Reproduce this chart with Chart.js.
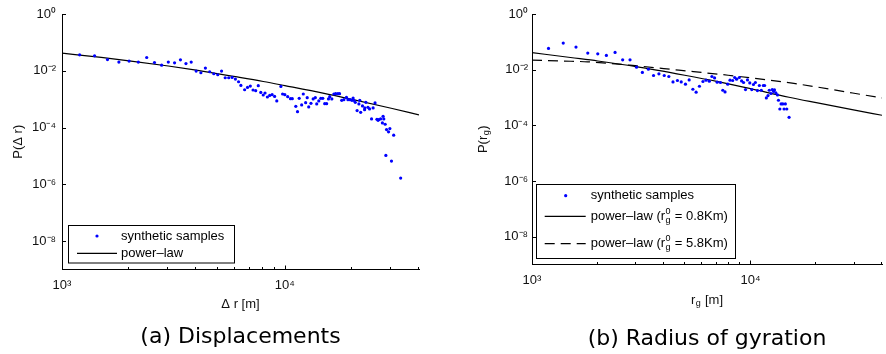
<!DOCTYPE html>
<html>
<head>
<meta charset="utf-8">
<script src="https://cdn.jsdelivr.net/npm/chart.js@4.4.1/dist/chart.umd.min.js"></script>
<style>
  html, body { margin: 0; padding: 0; background: #fff; }
  #wrap { position: relative; width: 886px; height: 354px; }
  canvas { position: absolute; top: 0; }
</style>
</head>
<body>
<div id="wrap">
  <canvas id="chartA" width="443" height="354" style="left:0"></canvas>
  <canvas id="chartB" width="443" height="354" style="left:443px"></canvas>
</div>
<script>
// ---- (a) displacements: samples ----
const dispX = [1200, 1400, 1600, 1800, 2000, 2200, 2400, 2600, 2800, 3000,
  3200, 3400, 3600, 3800, 4000, 4200, 4400, 4600, 4800, 5000,
  5200, 5400, 5600, 5800, 6000, 6200, 6350, 6600, 6800, 7000,
  7200, 7400, 7600, 7800, 8000, 8150, 8350, 8550, 8770, 9000,
  9200, 9600, 9770, 10000, 10300, 10600, 10800, 11200, 11400, 11600,
  11900, 12100, 12400, 12600, 12800, 13100, 13400, 13700, 13900, 14200,
  14500, 14800, 15100, 15400, 15700, 15900, 16250, 16600, 16900, 17300,
  17600, 18000, 18400, 18900, 19200, 19600, 20000, 20400, 20700, 21100,
  21500, 21900, 22300, 22800, 23100, 23600, 24000, 24500, 24900, 25400,
  25900, 26400, 26900, 27400, 27800, 28200, 28600, 29200, 29600, 28400,
  30100, 30800, 33100, 22840, 26200, 27600, 21690, 20250];
const dispY = [0.0364, 0.0336, 0.0249, 0.0202, 0.0219, 0.0202, 0.0293, 0.0196, 0.0158, 0.0202,
  0.0191, 0.0243, 0.0180, 0.0202, 0.00976, 0.00851, 0.01244, 0.00923, 0.00785, 0.00724,
  0.00976, 0.00568, 0.00568, 0.00582, 0.00511, 0.00411, 0.00305, 0.00215, 0.00259, 0.00290,
  0.00210, 0.00199, 0.00298, 0.00173, 0.00140, 0.00165, 0.00119, 0.00136, 0.00144, 0.00125,
  0.000865, 0.00281, 0.00152, 0.00144, 0.00122, 0.00104, 0.00104, 0.000559, 0.000364, 0.00107,
  0.000626, 0.00152, 0.000754, 0.00113, 0.000532, 0.000712, 0.00102, 0.00113, 0.000679, 0.000865,
  0.00107, 0.00107, 0.000695, 0.000695, 0.00102, 0.00122, 0.00102, 0.00152, 0.00156, 0.00156,
  0.00156, 0.000908, 0.000961, 0.00116, 0.000961, 0.000961, 0.000908, 0.000908, 0.000772, 0.000395,
  0.000679, 0.000344, 0.000577, 0.000428, 0.000772, 0.000516, 0.000453, 0.000202, 0.000491, 0.000736,
  0.000196, 0.000191, 0.000202, 0.000146, 0.000202, 0.000131, 0.0000851, 0.0000706, 0.0000922, 0.0000104,
  0.00000657, 0.0000537, 0.00000166, 0.000491, 0.000180, 0.000249, 0.000908, 0.00110];
// power-law fit curve
const dispFitX = [1000, 1500, 2000, 3000, 4000, 6000, 8000, 10000, 15000, 20000, 30000, 40000];
const dispFitY = [0.0418, 0.0296, 0.0225, 0.0147, 0.0105, 0.0062, 0.0042, 0.0030, 0.0016, 0.00098, 0.00048, 0.00028];

// ---- (b) radius of gyration ----
const gyrX = [1190, 1390, 1590, 1800, 2000, 2190, 2400, 2600, 2810, 3010,
  3200, 3410, 3600, 3810, 4030, 4230, 4420, 4630, 4820, 5040,
  5240, 5450, 5640, 5840, 6060, 6260, 6480, 6660, 6850, 7040,
  7290, 7470, 7650, 7870, 8060, 8290, 8470, 8640, 8890, 9110,
  9300, 9490, 9690, 9930, 10140, 10320, 10530, 10760, 10980, 11210,
  11450, 11610, 11820, 12030, 12190, 12410, 12580, 12750, 12880, 13070,
  13290, 13430, 13630, 13810, 14060, 14250, 14440, 14660, 15020];
const gyrY = [0.0581, 0.0902, 0.0647, 0.0393, 0.0371, 0.0325, 0.0417, 0.0226, 0.0226, 0.0123,
  0.00793, 0.0104, 0.00618, 0.00706, 0.00618, 0.00569, 0.00363, 0.00408, 0.00363, 0.00300,
  0.00429, 0.00198, 0.00155, 0.00254, 0.00376, 0.00419, 0.00385, 0.00569, 0.00507, 0.00355,
  0.00346, 0.00182, 0.00158, 0.00300, 0.00419, 0.00408, 0.00524, 0.00455, 0.00524, 0.00395,
  0.00346, 0.00193, 0.00429, 0.00334, 0.00193, 0.00293, 0.00346, 0.00178, 0.00270, 0.00182,
  0.00270, 0.00270, 0.000964, 0.00117, 0.00182, 0.00139, 0.00193, 0.00164, 0.00187, 0.00146,
  0.00124, 0.000796, 0.000387, 0.000586, 0.000586, 0.000387, 0.000586, 0.000387, 0.000194];
// r_g^0 = 0.8Km
const gyrFitAX = [1000, 1500, 2000, 3000, 5000, 7000, 10000, 15000, 20000, 30000, 40000];
const gyrFitAY = [0.041, 0.0273, 0.0205, 0.0128, 0.0063, 0.0038, 0.00207, 0.00102, 0.00065, 0.00035, 0.00023];
// r_g^0 = 5.8Km
const gyrFitBX = [1000, 1400, 1800, 2800, 4700, 7900, 15800, 40000];
const gyrFitBY = [0.022, 0.0204, 0.0191, 0.0145, 0.0096, 0.0063, 0.0032, 0.00096];

// axes
const xMajorTicks = [1e3, 1e4];
const xTickLabels = ['10³', '10⁴'];
const xMinorTicks = [2e3, 3e3, 4e3, 5e3, 6e3, 7e3, 8e3, 9e3, 2e4, 3e4, 4e4];
const yTicks = [1e-8, 1e-6, 1e-4, 1e-2, 1];
const yTickLabels = ['10⁻⁸', '10⁻⁶', '10⁻⁴', '10⁻²', '10⁰'];

const FONT = "'Liberation Sans', Arial, sans-serif";
const BASE = "13px " + FONT;
const SMALL = "9px " + FONT;

const pts = (xs, ys) => xs.map((x, i) => ({ x: x, y: ys[i] }));

// text with small raised / lowered pieces
function richWidth(ctx, parts) {
  let w = 0;
  parts.forEach(p => {
    if (typeof p === 'string') { ctx.font = BASE; w += ctx.measureText(p).width; }
    else {
      ctx.font = SMALL;
      w += Math.max(ctx.measureText(p.sup || '').width, ctx.measureText(p.sub || '').width) + 1;
    }
  });
  return w;
}
function drawRich(ctx, parts, x, y) {
  ctx.textBaseline = 'middle';
  ctx.textAlign = 'left';
  parts.forEach(p => {
    if (typeof p === 'string') {
      ctx.font = BASE; ctx.fillText(p, x, y); x += ctx.measureText(p).width;
    } else {
      ctx.font = SMALL;
      if (p.sup) ctx.fillText(p.sup, x + 0.5, y - 5);
      if (p.sub) ctx.fillText(p.sub, x + 0.5, y + 4);
      x += Math.max(ctx.measureText(p.sup || '').width, ctx.measureText(p.sub || '').width) + 1;
    }
  });
}

// ticks point inward, like the original
const inwardTicks = {
  id: 'inwardTicks',
  afterDatasetsDraw(chart) {
    const { ctx, chartArea: a, scales: { x, y } } = chart;
    ctx.save();
    ctx.strokeStyle = '#000';
    ctx.lineWidth = 1;
    ctx.beginPath();
    yTicks.forEach(v => {
      const p = Math.round(y.getPixelForValue(v)) + 0.5;
      ctx.moveTo(a.left, p); ctx.lineTo(a.left + 4, p);
    });
    xMajorTicks.forEach(v => {
      const p = Math.round(x.getPixelForValue(v)) + 0.5;
      ctx.moveTo(p, a.bottom); ctx.lineTo(p, a.bottom - 4);
    });
    xMinorTicks.forEach(v => {
      const p = Math.round(x.getPixelForValue(v)) - 0.5;
      ctx.moveTo(p, a.bottom); ctx.lineTo(p, a.bottom - 2.5);
    });
    ctx.stroke();
    ctx.restore();
  }
};

const richText = {
  id: 'richText',
  afterDraw(chart, args, opts) {
    const ctx = chart.ctx;
    (opts.items || []).forEach(it => {
      ctx.save();
      ctx.fillStyle = '#111';
      const cx = it.cx === 'area' ? (chart.chartArea.left + chart.chartArea.right) / 2 : it.cx;
      const cy = it.cy === 'area' ? (chart.chartArea.top + chart.chartArea.bottom) / 2 : it.cy;
      ctx.translate(cx, cy);
      if (it.rotate) ctx.rotate(-Math.PI / 2);
      drawRich(ctx, it.parts, -richWidth(ctx, it.parts) / 2, 0);
      ctx.restore();
    });
  }
};

const boxLegend = {
  id: 'boxLegend',
  afterDraw(chart, args, o) {
    const ctx = chart.ctx;
    ctx.save();
    ctx.fillStyle = '#fff';
    ctx.fillRect(o.box[0], o.box[1], o.box[2], o.box[3]);
    ctx.strokeStyle = '#000';
    ctx.lineWidth = 1;
    ctx.strokeRect(o.box[0], o.box[1], o.box[2], o.box[3]);
    chart.data.datasets.forEach((ds, i) => {
      const yy = o.rows[i];
      if (ds.showLine) {
        ctx.strokeStyle = ds.borderColor;
        ctx.lineWidth = ds.borderWidth;
        ctx.setLineDash(ds.borderDash || []);
        ctx.beginPath();
        ctx.moveTo(o.lineX[0], yy); ctx.lineTo(o.lineX[1], yy);
        ctx.stroke();
        ctx.setLineDash([]);
      } else {
        ctx.fillStyle = ds.backgroundColor;
        ctx.beginPath();
        ctx.arc(o.markerX, yy, ds.pointRadius, 0, Math.PI * 2);
        ctx.fill();
      }
      ctx.fillStyle = '#000';
      drawRich(ctx, ds.legendParts || [ds.label], o.textX, yy);
    });
    ctx.restore();
  }
};

function samples(xs, ys) {
  return { label: 'synthetic samples', data: pts(xs, ys), showLine: false,
    pointRadius: 1.6, pointBorderWidth: 0, backgroundColor: '#0000ff', borderColor: '#0000ff' };
}
function fitLine(label, xs, ys, dash, parts) {
  return { label: label, legendParts: parts, data: pts(xs, ys), showLine: true, pointRadius: 0,
    borderColor: '#000', borderWidth: 1.2, borderDash: dash, cubicInterpolationMode: 'monotone' };
}

function makeChart(id, o) {
  return new Chart(document.getElementById(id), {
    type: 'scatter',
    data: { datasets: o.datasets },
    options: {
      responsive: false,
      animation: false,
      devicePixelRatio: 1,
      layout: { padding: o.padding },
      plugins: {
        legend: { display: false },
        tooltip: { enabled: false },
        title: { display: true, position: 'bottom', fullSize: false, text: o.caption, color: '#000',
          font: { family: "'DejaVu Sans', sans-serif", size: 22, weight: 'normal', lineHeight: 1.2 },
          padding: { top: 0, bottom: o.captionPad } },
        richText: { items: o.rich },
        boxLegend: o.legend
      },
      scales: {
        x: {
          type: 'logarithmic', min: 1e3, max: 4e4,
          grid: { display: false, drawTicks: false },
          border: { display: true, color: '#000', width: 1 },
          afterBuildTicks: s => { s.ticks = xMajorTicks.map(v => ({ value: v })); },
          afterFit: s => { s.height = o.xHeight; },
          ticks: { autoSkip: false, maxRotation: 0, padding: o.xTickPad, color: '#111',
            font: { family: FONT, size: 13 }, callback: (v, i) => xTickLabels[i] },
          title: o.xTitle
        },
        y: {
          type: 'logarithmic', min: 1e-9, max: 1,
          grid: { display: false, drawTicks: false },
          border: { display: true, color: '#000', width: 1 },
          afterBuildTicks: s => { s.ticks = yTicks.map(v => ({ value: v })); },
          afterFit: s => { s.width = o.yWidth; },
          ticks: { autoSkip: false, padding: o.yTickPad, color: '#111',
            font: { family: FONT, size: 13 }, callback: (v, i) => yTickLabels[i] },
          title: o.yTitle
        }
      }
    },
    plugins: [inwardTicks, richText, boxLegend]
  });
}

makeChart('chartA', {
  datasets: [samples(dispX, dispY), fitLine('power–law', dispFitX, dispFitY, [])],
  padding: { top: 14, right: 24, left: 0, bottom: 0 },
  caption: '(a) Displacements', captionPad: 3.8,
  xHeight: 54.3, xTickPad: 8, yWidth: 62, yTickPad: 6,
  xTitle: { display: true, text: 'Δ r [m]', color: '#111', font: { family: FONT, size: 13 }, padding: { top: 0, bottom: 12 } },
  yTitle: { display: true, text: 'P(Δ r)', color: '#111', font: { family: FONT, size: 13 }, padding: { top: 11, bottom: 0 } },
  rich: [],
  legend: { box: [68.5, 225.5, 166, 37.5], markerX: 97, lineX: [77, 117], textX: 121, rows: [236, 253.3] }
});

makeChart('chartB', {
  datasets: [
    samples(gyrX, gyrY),
    fitLine('power–law (r0g = 0.8Km)', gyrFitAX, gyrFitAY, [], ['power–law (r', { sup: '0', sub: 'g' }, ' = 0.8Km)']),
    fitLine('power–law (r0g = 5.8Km)', gyrFitBX, gyrFitBY, [10, 6], ['power–law (r', { sup: '0', sub: 'g' }, ' = 5.8Km)'])
  ],
  padding: { top: 14, right: 0, left: 0, bottom: 0 },
  caption: '(b) Radius of gyration', captionPad: 1.8,
  xHeight: 61.3, xTickPad: 8, yWidth: 89, yTickPad: 4,
  xTitle: { display: false },
  yTitle: { display: false },
  rich: [
    { cx: 'area', cy: 300, parts: ['r', { sub: 'g' }, ' [m]'] },
    { cx: 40, cy: 'area', rotate: true, parts: ['P(r', { sub: 'g' }, ')'] }
  ],
  legend: { box: [93.5, 184.5, 199, 74], markerX: 122.7, lineX: [101.7, 142.7], textX: 147.7, rows: [195.7, 216.3, 243.7] }
});
</script>
</body>
</html>
